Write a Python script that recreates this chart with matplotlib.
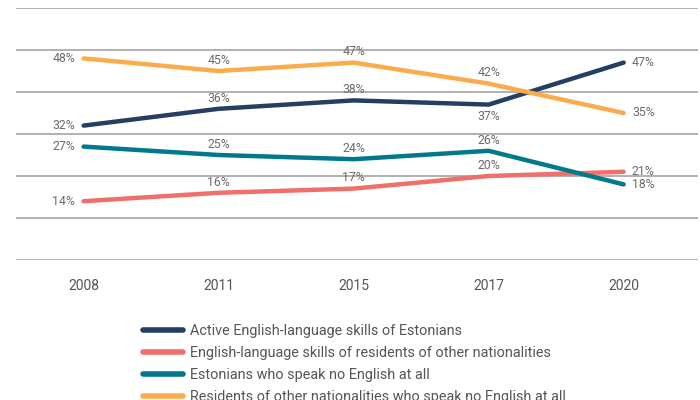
import matplotlib.pyplot as plt
from matplotlib.lines import Line2D

years = ["2008", "2011", "2015", "2017", "2020"]
active_est = [32, 36, 38, 37, 47]
skills_other = [14, 16, 17, 20, 21]
no_english_est = [27, 25, 24, 26, 18]
no_english_other = [48, 45, 47, 42, 35]

series_names = [
    "Active English-language skills of Estonians",
    "English-language skills of residents of other nationalities",
    "Estonians who speak no English at all",
    "Residents of other nationalities who speak no English at all",
]
colors = ["#243f63", "#ef6f6a", "#00798c", "#fbab4b"]

# where each value label sits relative to its point, per series
label_pos = [
    ["left", "above", "above", "below", "right"],
    ["left", "above", "above", "above", "right"],
    ["left", "above", "above", "above", "right"],
    ["left", "above", "above", "above", "right"],
]

plt.rcParams["font.family"] = ["Roboto", "DejaVu Sans"]

fig = plt.figure(figsize=(7, 4), dpi=100)
ax = fig.add_axes([0.023, 0.35, 0.974, 0.63])

for v in range(0, 70, 10):
    ax.axhline(v, color="#aaaaaa", lw=1.3, zorder=0)

x = list(range(len(years)))
all_series = [active_est, skills_other, no_english_est, no_english_other]
for vals, c, pos in zip(all_series, colors, label_pos):
    ax.plot(x, vals, color=c, lw=3.2, solid_capstyle="round", zorder=3)
    for xi, v, p in zip(x, vals, pos):
        kw = dict(fontsize=8.8, color="#6b6b6b", zorder=4)
        if p == "left":
            ax.annotate(f"{v}%", (xi, v), xytext=(-6, 0), textcoords="offset points",
                        ha="right", va="center", **kw)
        elif p == "right":
            ax.annotate(f"{v}%", (xi, v), xytext=(6, 0), textcoords="offset points",
                        ha="left", va="center", **kw)
        elif p == "above":
            ax.annotate(f"{v}%", (xi, v), xytext=(0, 3), textcoords="offset points",
                        ha="center", va="bottom", **kw)
        else:
            ax.annotate(f"{v}%", (xi, v), xytext=(0, -4), textcoords="offset points",
                        ha="center", va="top", **kw)

ax.set_xlim(-0.5, 4.55)
ax.set_ylim(0, 60)
ax.set_yticks([])
ax.set_xticks(x)
ax.set_xticklabels(years, fontsize=10, color="#555555")
ax.tick_params(axis="x", length=0, pad=14)
for s in ax.spines.values():
    s.set_visible(False)

handles = [Line2D([0], [0], color=c, lw=4, solid_capstyle="round") for c in colors]
fig.legend(handles, series_names, loc="upper left", bbox_to_anchor=(0.204, 0.19),
           frameon=False, fontsize=10.4, handlelength=2.8, handletextpad=0.45,
           labelspacing=0.55, borderpad=0, borderaxespad=0, labelcolor="#555555")

fig.savefig("out.png", dpi=100)
